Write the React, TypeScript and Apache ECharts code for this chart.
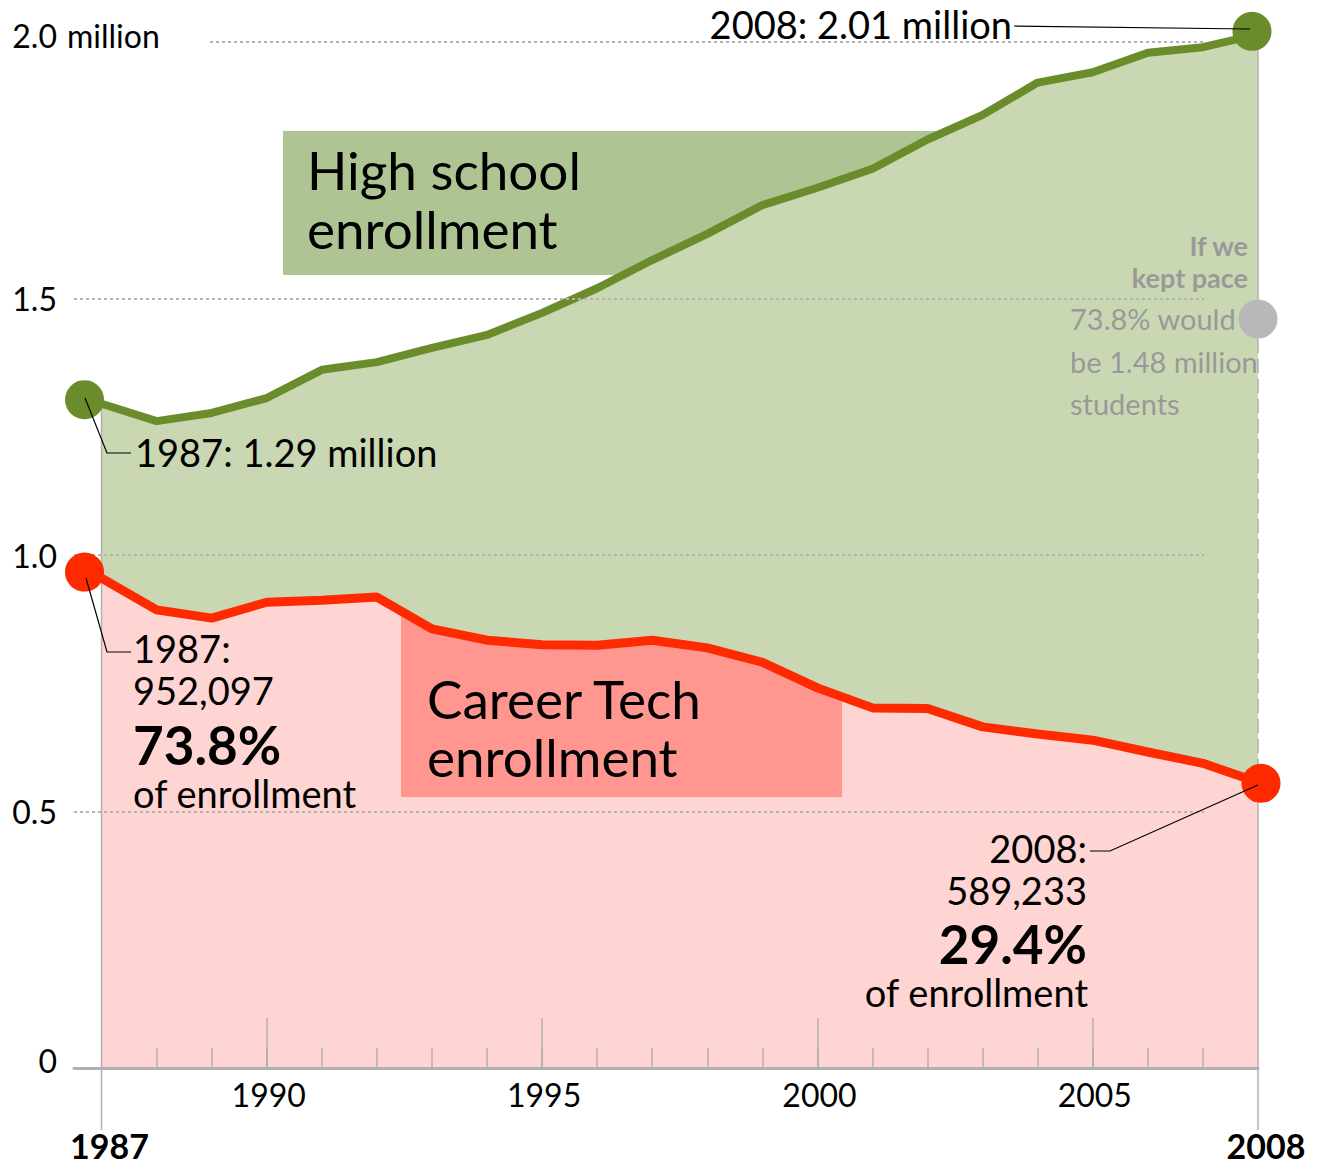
import React, { useEffect, useRef } from 'react';
import * as echarts from 'echarts';

const years = [1987, 1988, 1989, 1990, 1991, 1992, 1993, 1994, 1995, 1996, 1997, 1998, 1999, 2000, 2001, 2002, 2003, 2004, 2005, 2006, 2007, 2008];
// High school enrollment, millions
const highSchool = [1.295, 1.261, 1.277, 1.306, 1.361, 1.376, 1.404, 1.429, 1.472, 1.52, 1.575, 1.626, 1.682, 1.716, 1.753, 1.81, 1.858, 1.921, 1.941, 1.979, 1.99, 2.015];
// Career Tech enrollment, millions
const careerTech = [0.955, 0.893, 0.877, 0.908, 0.912, 0.918, 0.856, 0.834, 0.825, 0.824, 0.834, 0.819, 0.791, 0.741, 0.702, 0.701, 0.665, 0.651, 0.639, 0.616, 0.594, 0.557];
const keptPaceValue = 1.46;
const yTickValues = [0, 0.5, 1, 1.5, 2];
const yTickLabels = ['0', '0.5', '1.0', '1.5', '2.0'];
const majorYears = [1990, 1995, 2000, 2005];
const endYears = [1987, 2008];
const minorYears = years.slice(1, -1);

const FONT = 'Lato, "Open Sans", sans-serif';
const PINK = '#ffd5d3';
const CT_BOX = '#ff9690';
const RED = '#ff2a00';
const LIGHTGREEN = '#c9d8b3';
const HS_BOX = '#afc493';
const GREEN = '#6b8c2a';
const GRAYDOT = '#b8b8b8';
const GRAYTEXT = '#999999';
const AXIS = '#b0b0b0';
const GRID = '#b3b3b3';

export default function App() {
  const ref = useRef<HTMLDivElement>(null);

  useEffect(() => {
    document.body.style.margin = '0';
    const chart = echarts.init(ref.current!, null, { renderer: 'svg' });
    const xy = (arr: number[]) => years.map((y, i) => [y, arr[i]]);
    const last = years.length - 1;

    const text = (t: string, x: number, y: number, size: number, o: any = {}) => ({
      type: 'text',
      z: 20,
      silent: true,
      style: {
        text: t,
        x,
        y,
        font: `${o.bold ? 'bold ' : ''}${size}px ${FONT}`,
        fill: o.color || '#000',
        textAlign: o.align || 'left',
        textVerticalAlign: 'middle',
      },
    });
    const leader = (points: number[][]) => ({
      type: 'polyline',
      z: 15,
      silent: true,
      shape: { points },
      style: { stroke: '#000', lineWidth: 1.2, fill: null },
    });

    const gridRect = { left: 74, right: 67, top: 1, bottom: 98 };
    const axisFont = { fontFamily: FONT, color: '#000' };

    const option: any = {
      animation: false,
      grid: [gridRect, gridRect],
      xAxis: [
        {
          type: 'value', gridIndex: 0, min: 1986.5, max: 2008, z: 6,
          splitLine: { show: false },
          axisLine: { show: true, onZero: false, lineStyle: { color: AXIS, width: 3 } },
          axisTick: { show: true, inside: true, length: 20, customValues: minorYears, lineStyle: { color: AXIS, width: 1.5 } },
          axisLabel: { customValues: endYears, margin: 60, fontSize: 34, fontWeight: 'bold', padding: [0, 0, 0, 16], ...axisFont, formatter: (v: number) => String(v) },
        },
        {
          type: 'value', gridIndex: 1, min: 1986.5, max: 2008, z: 6,
          splitLine: { show: false },
          axisLine: { show: false },
          axisTick: { show: true, inside: true, length: 50, customValues: majorYears, lineStyle: { color: AXIS, width: 1.5 } },
          axisLabel: { customValues: majorYears, margin: 10, fontSize: 32, padding: [0, 0, 0, 4], ...axisFont, formatter: (v: number) => String(v) },
        },
      ],
      yAxis: [
        {
          type: 'value', gridIndex: 0, min: 0, max: 2.08, interval: 0.5,
          splitLine: { show: false }, axisLine: { show: false }, axisTick: { show: false },
          axisLabel: {
            margin: 17, fontSize: 32, ...axisFont,
            formatter: (v: number) => {
              const i = yTickValues.findIndex((t) => Math.abs(t - v) < 1e-6);
              if (i < 0) return '';
              const t = yTickLabels[i];
              if (v > 1.9) return `{up|${t}}`;
              if (v < 0.1) return `{up0|${t}}`;
              return t;
            },
            rich: {
              up: { fontSize: 32, fontFamily: FONT, color: '#000', padding: [0, 0, 14, 0] },
              up0: { fontSize: 32, fontFamily: FONT, color: '#000', padding: [0, 0, 16, 0] },
            },
          },
        },
        { type: 'value', gridIndex: 1, min: 0, max: 2.08, show: false },
      ],
      series: [
        {
          name: 'Career Tech area', type: 'line', data: xy(careerTech), symbol: 'none', z: 1, silent: true, clip: false,
          lineStyle: { width: 0 }, areaStyle: { color: PINK, opacity: 1 },
        },
        {
          name: 'High school band', type: 'custom', z: 3, silent: true, clip: false,
          data: years.map((y, i) => [y, highSchool[i], careerTech[i]]),
          encode: { x: 0, y: [1, 2] },
          renderItem: (params: any, api: any) => {
            if (params.dataIndex !== 0) return null;
            const top = years.map((y, i) => api.coord([y, highSchool[i]]));
            const bottom = years.map((y, i) => api.coord([y, careerTech[i]])).reverse();
            return { type: 'polygon', shape: { points: top.concat(bottom) }, style: { fill: LIGHTGREEN } };
          },
        },
        {
          name: 'v1987', type: 'line', data: [[1987, highSchool[0]], [1987, -0.121]], symbol: 'none', clip: false, z: 3.5, silent: true,
          lineStyle: { color: AXIS, width: 1.5 },
        },
        {
          name: 'v2008a', type: 'line', data: [[2008, highSchool[last]], [2008, keptPaceValue]], symbol: 'none', clip: false, z: 3.5, silent: true,
          lineStyle: { color: AXIS, width: 1.5 },
        },
        {
          name: 'v2008b', type: 'line', data: [[2008, keptPaceValue], [2008, careerTech[last]]], symbol: 'none', clip: false, z: 3.5, silent: true,
          lineStyle: { color: AXIS, width: 1.5, type: [14, 6] },
        },
        {
          name: 'v2008c', type: 'line', data: [[2008, careerTech[last]], [2008, -0.121]], symbol: 'none', clip: false, z: 3.5, silent: true,
          lineStyle: { color: AXIS, width: 1.5 },
        },
        {
          name: 'High school enrollment', type: 'line', data: xy(highSchool), symbol: 'none', z: 4, silent: true, clip: false,
          lineStyle: { color: GREEN, width: 8 },
        },
        {
          name: 'Career Tech enrollment', type: 'line', data: xy(careerTech), symbol: 'none', z: 4, silent: true, clip: false,
          lineStyle: { color: RED, width: 9 },
          markLine: {
            silent: true, symbol: ['none', 'none'], label: { show: false },
            lineStyle: { type: [3, 3], color: GRID, width: 2 },
            emphasis: { disabled: true },
            data: [
              [{ coord: [1988.97, 2] }, { coord: [2007.02, 2] }],
              [{ coord: [1986.5, 1.5] }, { coord: [2007.02, 1.5] }],
              [{ coord: [1986.5, 1] }, { coord: [2007.02, 1] }],
              [{ coord: [1986.5, 0.5] }, { coord: [2007.02, 0.5] }],
            ],
          },
        },
        {
          name: 'dots', type: 'scatter', symbolSize: 39, z: 10, silent: true, clip: false,
          itemStyle: { opacity: 1 },
          data: [
            { value: [1987, highSchool[0]], symbolOffset: [-17, -4], itemStyle: { color: GREEN, opacity: 1 } },
            { value: [2008, highSchool[last]], symbolOffset: [-6, -3], itemStyle: { color: GREEN, opacity: 1 } },
            { value: [1987, careerTech[0]], symbolOffset: [-17, -6], itemStyle: { color: RED, opacity: 1 } },
            { value: [2008, careerTech[last]], symbolOffset: [3, 1], itemStyle: { color: RED, opacity: 1 } },
            { value: [2008, keptPaceValue], itemStyle: { color: GRAYDOT, opacity: 1 } },
          ],
        },
      ],
      graphic: [
        { type: 'rect', z: 2, silent: true, shape: { x: 283, y: 131, width: 657, height: 144 }, style: { fill: HS_BOX } },
        { type: 'rect', z: 2, silent: true, shape: { x: 401, y: 600, width: 441, height: 197 }, style: { fill: CT_BOX } },
        text('million', 67, 35, 32),
        text('High school', 307, 169, 53),
        text('enrollment', 307, 228, 53),
        text('Career Tech', 427, 698, 53),
        text('enrollment', 427, 756, 53),
        text('1987: 1.29 million', 135, 452, 38),
        text('2008: 2.01 million', 1012, 24, 38, { align: 'right' }),
        text('1987:', 133, 648, 38),
        text('952,097', 133, 690, 38),
        text('73.8%', 133, 744, 53, { bold: true }),
        text('of enrollment', 133, 793, 38),
        text('2008:', 1087, 848, 38, { align: 'right' }),
        text('589,233', 1087, 890, 38, { align: 'right' }),
        text('29.4%', 1087, 943, 53, { bold: true, align: 'right' }),
        text('of enrollment', 1088, 992, 38, { align: 'right' }),
        text('If we', 1248, 245, 27, { bold: true, align: 'right', color: GRAYTEXT }),
        text('kept pace', 1248, 277, 27, { bold: true, align: 'right', color: GRAYTEXT }),
        text('73.8% would', 1070, 318, 29, { color: GRAYTEXT }),
        text('be 1.48 million', 1070, 361, 29, { color: GRAYTEXT }),
        text('students', 1070, 403, 29, { color: GRAYTEXT }),
        leader([[85, 398], [107, 453], [131, 453]]),
        leader([[86, 578], [107, 652], [131, 652]]),
        leader([[1014, 26], [1250, 29]]),
        leader([[1258, 785], [1110, 851], [1090, 851]]),
      ],
    };

    chart.setOption(option);
    return () => chart.dispose();
  }, []);

  return <div ref={ref} style={{ position: 'absolute', left: 0, top: 0, width: 1325, height: 1166 }} />;
}
